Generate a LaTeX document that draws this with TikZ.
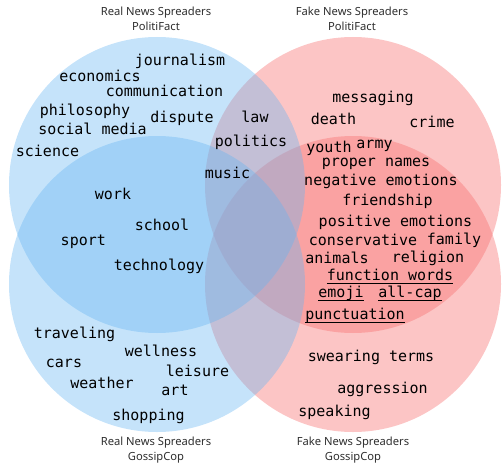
\documentclass[tikz,border=0pt]{standalone}
\usepackage{fontspec}
\newfontfamily\wordfamily{DejaVu Sans Mono}
\newfontfamily\ttlfamily{Noto Sans}
\newcommand{\undword}[1]{\setbox0=\hbox{#1}\rlap{\rule[-3.6pt]{\wd0}{1pt}}\box0}
\definecolor{vblue}{RGB}{102,181,242}
\definecolor{vpink}{RGB}{247,110,110}
\tikzset{
  word/.style={font=\wordfamily\fontsize{15}{18}\selectfont, anchor=base, inner sep=0pt, text=black},
  ttl/.style={font=\ttlfamily\fontsize{11.2}{13}\selectfont, anchor=base, inner sep=0pt, text=black!82},
  pinkset/.style={fill=vpink, fill opacity=0.4},
  blueset/.style={fill=vblue, fill opacity=0.38},
}
\begin{document}
\begin{tikzpicture}[x=1pt,y=-1pt]
\useasboundingbox (0,0) rectangle (502,468);
% circles: pink first, blue on top
\fill[pinkset] (353,185) circle (148);
\fill[pinkset] (353,284) circle (148);
\fill[blueset] (157,185) circle (148);
\fill[blueset] (157,284) circle (148);
% titles
\node[ttl] (t1a) at (156,15.7) {Real News Spreaders};
\node[ttl] (t1b) at (156,31) {PolitiFact};
\node[ttl] (t2a) at (352,15.7) {Fake News Spreaders};
\node[ttl] (t2b) at (352,31) {PolitiFact};
\node[ttl] (t3a) at (156,445) {Real News Spreaders};
\node[ttl] (t3b) at (156,460) {GossipCop};
\node[ttl] (t4a) at (353,445) {Fake News Spreaders};
\node[ttl] (t4b) at (353,460) {GossipCop};
% real politifact
\node[word] (journalism) at (180,65.3) {journalism};
\node[word] (economics) at (100,81.7) {economics};
\node[word] (communication) at (164.5,96) {communication};
\node[word] (philosophy) at (85,115) {philosophy};
\node[word] (dispute) at (182,122) {dispute};
\node[word] (socialmedia) at (92.5,134) {social media};
\node[word] (science) at (47.5,156.7) {science};
\node[word] (law) at (255,122) {law};
\node[word] (politics) at (251,146) {politics};
\node[word] (music) at (227.5,178.3) {music};
% fake politifact
\node[word] (messaging) at (373,102.7) {messaging};
\node[word] (death) at (333.5,124.7) {death};
\node[word] (crime) at (432,127.7) {crime};
\node[word] (youth) at (329,152.7) {youth};
\node[word] (army) at (374.5,148.7) {army};
\node[word] (propernames) at (376,166.7) {proper names};
\node[word] (negemo) at (381,185) {negative emotions};
\node[word] (friendship) at (387.5,205) {friendship};
\node[word] (posemo) at (395.5,226) {positive emotions};
\node[word] (conservative) at (363,245.7) {conservative};
\node[word] (family) at (454,244) {family};
\node[word] (animals) at (337,263.3) {animals};
\node[word] (religion) at (428,262.3) {religion};
\node[word] (functionwords) at (390,280) {\undword{function words}};
\node[word] (emoji) at (341,297.3) {\undword{emoji}};
\node[word] (allcap) at (410,297.3) {\undword{all-cap}};
\node[word] (punctuation) at (355,319.3) {\undword{punctuation}};
% real blue overlap
\node[word] (work) at (113,199.3) {work};
\node[word] (school) at (162,230) {school};
\node[word] (sport) at (83.3,245) {sport};
\node[word] (technology) at (159,270) {technology};
% real gossipcop
\node[word] (traveling) at (74.5,338.3) {traveling};
\node[word] (wellness) at (161,356.7) {wellness};
\node[word] (cars) at (64,367.3) {cars};
\node[word] (leisure) at (197.5,376.7) {leisure};
\node[word] (weather) at (102,388.3) {weather};
\node[word] (art) at (175,395) {art};
\node[word] (shopping) at (148.5,420) {shopping};
% fake gossipcop
\node[word] (swearing) at (371,361) {swearing terms};
\node[word] (aggression) at (382.5,393.3) {aggression};
\node[word] (speaking) at (334.5,416) {speaking};
\end{tikzpicture}
\end{document}
